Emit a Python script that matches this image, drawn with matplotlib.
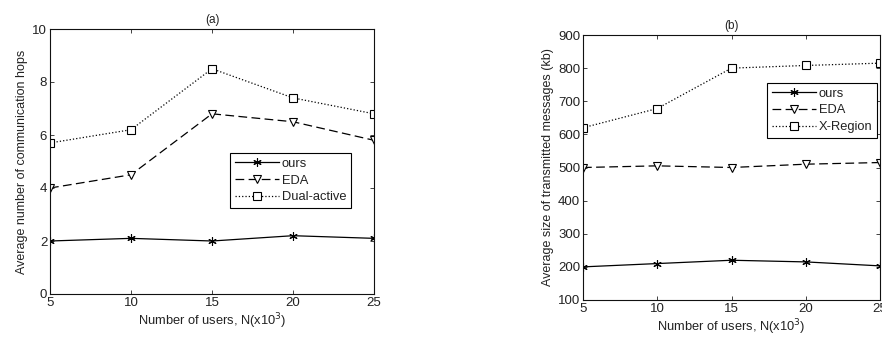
import numpy as np
import matplotlib.pyplot as plt

plt.rcParams['font.family'] = ['Liberation Sans', 'DejaVu Sans']

users = [5, 10, 15, 20, 25]

# (a) hops
hops_ours = [2.0, 2.1, 2.0, 2.2, 2.1]
hops_eda = [4.0, 4.5, 6.8, 6.5, 5.8]
hops_dual = [5.7, 6.2, 8.5, 7.4, 6.8]

# (b) message size (kb)
size_ours = [200, 210, 220, 215, 203]
size_eda = [500, 505, 500, 510, 515]
size_xreg = [620, 678, 800, 808, 815]

txt = '#222222'
star = (6, 2, 0)  # matlab-like asterisk

fig = plt.figure(figsize=(8.82, 3.39), dpi=100)
ax1 = fig.add_axes([50/882, 45/339, 324/882, 265/339])
ax2 = fig.add_axes([583/882, 39/339, 297/882, 265/339])


def style(ax):
    ax.tick_params(direction='in', top=True, right=True, length=3,
                   labelsize=9.5, colors=txt, width=0.6, pad=2)
    for s in ax.spines.values():
        s.set_linewidth(0.8)
        s.set_color('#111111')
    ax.set_xlim(5, 25)
    ax.set_xticks(users)


def draw(ax, ours, eda, third, third_name):
    ax.plot(users, ours, '-', color='black', lw=0.9, marker=star, ms=6, mew=0.8, label='ours')
    ax.plot(users, eda, '--', color='black', lw=0.9, marker='v', ms=6,
            mfc='white', mew=0.8, dashes=(7, 3.5), label='EDA')
    ax.plot(users, third, ':', color='black', lw=0.9, marker='s', ms=6,
            mfc='white', mew=0.8, label=third_name)


def legend(ax, anchor):
    leg = ax.legend(loc='upper left', bbox_to_anchor=anchor, fontsize=9.3,
                    fancybox=False, edgecolor='black', framealpha=1,
                    handlelength=3.4, borderpad=0.35, labelspacing=0.38,
                    handletextpad=0.25, borderaxespad=0)
    leg.get_frame().set_linewidth(0.8)
    for t in leg.get_texts():
        t.set_color(txt)


draw(ax1, hops_ours, hops_eda, hops_dual, 'Dual-active')
style(ax1)
ax1.set_ylim(0, 10)
ax1.set_yticks([0, 2, 4, 6, 8, 10])
ax1.set_title('(a)', fontsize=8.5, color=txt, pad=4)
ax1.set_xlabel('Number of users, N(x10$^3$)', fontsize=9.3, color=txt, labelpad=2)
ax1.set_ylabel('Average number of communication hops', fontsize=9, color=txt, labelpad=3)
legend(ax1, (0.556, 0.532))

draw(ax2, size_ours, size_eda, size_xreg, 'X-Region')
style(ax2)
ax2.set_ylim(100, 900)
ax2.set_yticks(np.arange(100, 901, 100))
ax2.set_title('(b)', fontsize=8.5, color=txt, pad=4)
ax2.set_xlabel('Number of users, N(x10$^3$)', fontsize=9.3, color=txt, labelpad=2)
ax2.set_ylabel('Average size of transmitted messages (kb)', fontsize=9, color=txt, labelpad=3)
legend(ax2, (0.62, 0.819))

fig.savefig('out.png', dpi=100)
